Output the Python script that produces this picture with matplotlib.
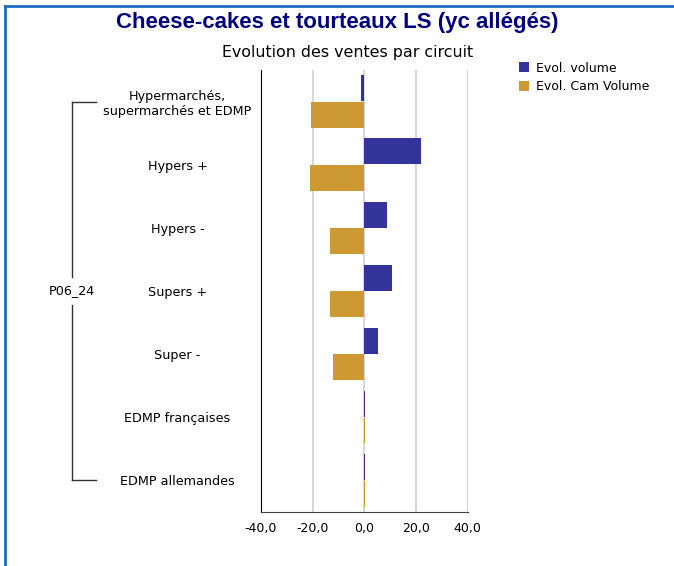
import matplotlib
matplotlib.use("Agg")
import matplotlib.pyplot as plt
from matplotlib.lines import Line2D

# Data
categories = [
    "Hypermarchés,\nsupermarchés et EDMP",
    "Hypers +",
    "Hypers -",
    "Supers +",
    "Super -",
    "EDMP françaises",
    "EDMP allemandes",
]
evol_volume = [-1.2, 22.1, 8.8, 10.9, 5.4, 0.3, 0.3]
evol_cam_volume = [-20.5, -20.9, -13.2, -13.1, -12.0, 0.3, 0.3]
xticks = [-40, -20, 0, 20, 40]
group_label = "P06_24"

col_vol = "#333399"
col_cam = "#CC9933"

fig = plt.figure(figsize=(6.74, 5.66), dpi=100)
ax = fig.add_axes([0.387, 0.0954, 0.307, 0.781])

y = list(range(len(categories)))
bh = 0.41
ax.barh([v - 0.21 for v in y], evol_volume, height=bh, color=col_vol,
        label="Evol. volume", zorder=3)
ax.barh([v + 0.21 for v in y], evol_cam_volume, height=bh, color=col_cam,
        label="Evol. Cam Volume", zorder=3)

ax.set_xlim(-40, 40)
ax.set_ylim(len(categories) - 0.5, -0.5)
ax.set_xticks(xticks)
ax.set_xticklabels([f"{t:.1f}".replace(".", ",") for t in xticks], fontsize=9)
ax.set_yticks(y)
ax.set_yticklabels(categories, fontsize=9.2, ha="center", multialignment="center")
ax.tick_params(axis="y", length=0, pad=60)
ax.tick_params(axis="x", length=0, pad=7)
ax.grid(axis="x", color="#d0d0d0", linewidth=1.2, zorder=0)

for s in ["top", "right"]:
    ax.spines[s].set_visible(False)
ax.spines["left"].set_color("black")
ax.spines["bottom"].set_color("#404040")

# group bracket on the left
tr = ax.get_yaxis_transform()
xb, xe = -0.913, -0.797
for seg in [([xb, xb], [0, 2.78]), ([xb, xb], [3.22, 6])]:
    ax.add_line(Line2D(seg[0], seg[1], color="#333333", lw=1, transform=tr, clip_on=False))
ax.add_line(Line2D([xb, xe], [0, 0], color="#333333", lw=1, transform=tr, clip_on=False))
ax.add_line(Line2D([xb, xe], [6, 6], color="#333333", lw=1, transform=tr, clip_on=False))
ax.text(xb, 3, group_label, transform=tr, ha="center", va="center", fontsize=9.2)

# titles
fig.text(0.501, 0.961, "Cheese-cakes et tourteaux LS (yc allégés)", ha="center",
         va="center", fontsize=16, fontweight="bold", color="#000080",
         family="Liberation Sans")
fig.text(0.515, 0.908, "Evolution des ventes par circuit", ha="center",
         va="center", fontsize=11.4)

leg = ax.legend(loc="upper left", bbox_to_anchor=(0.762, 0.9),
                bbox_transform=fig.transFigure, frameon=False, fontsize=9,
                handlelength=0.8, handleheight=0.8, handletextpad=0.6,
                labelspacing=0.45, borderaxespad=0)

# blue frame
fig.add_artist(Line2D([0.008, 0.008], [0, 0.99], color="#1f6bc4", lw=2,
                      transform=fig.transFigure))
fig.add_artist(Line2D([0.008, 1], [0.99, 0.99], color="#1f6bc4", lw=2,
                      transform=fig.transFigure))

fig.savefig("out.png", dpi=100)
